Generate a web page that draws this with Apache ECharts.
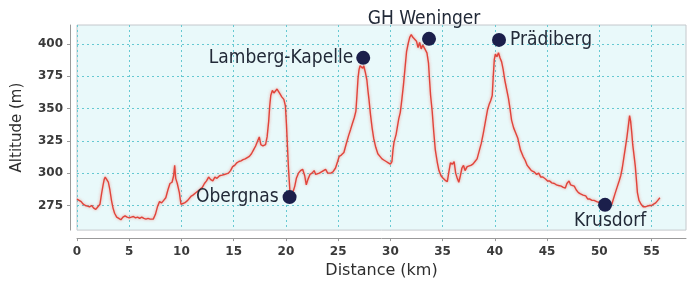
<!DOCTYPE html>
<html>
<head>
<meta charset="utf-8">
<script src="https://cdn.jsdelivr.net/npm/echarts@6/dist/echarts.min.js"></script>
<style>
  html, body { margin: 0; padding: 0; background: #ffffff; }
  #chart { width: 687px; height: 284px; }
</style>
</head>
<body>
<div id="chart"></div>
<script>
// elevation profile
var distKm = [0.0, 0.2, 0.4, 0.6, 0.8, 1.0, 1.2, 1.4, 1.6, 1.8, 2.0, 2.2, 2.35, 2.5, 2.6, 2.7, 2.85, 3.0, 3.15, 3.3,
    3.45, 3.6, 3.8, 4.0, 4.2, 4.4, 4.6, 4.8, 5.0, 5.2, 5.4, 5.6, 5.8, 6.0, 6.2, 6.4, 6.6, 6.8, 7.0, 7.3,
    7.5, 7.7, 7.9, 8.1, 8.3, 8.5, 8.7, 8.9, 9.1, 9.25, 9.35, 9.45, 9.6, 9.8, 9.95, 10.1, 10.3, 10.6, 10.9, 11.1,
    11.4, 11.7, 12.0, 12.2, 12.4, 12.6, 12.8, 13.0, 13.2, 13.4, 13.65, 13.9, 14.1, 14.3, 14.5, 14.7, 14.9, 15.1, 15.3, 15.5,
    15.7, 15.9, 16.1, 16.3, 16.5, 16.7, 16.9, 17.1, 17.3, 17.45, 17.6, 17.8, 18.05, 18.2, 18.35, 18.45, 18.55, 18.7, 18.85, 19.0,
    19.15, 19.3, 19.45, 19.6, 19.8, 19.95, 20.05, 20.15, 20.25, 20.4, 20.55, 20.7, 20.85, 21.0, 21.2, 21.4, 21.6, 21.8, 21.95, 22.1,
    22.3, 22.5, 22.7, 22.85, 23.0, 23.2, 23.4, 23.6, 23.8, 24.0, 24.1, 24.3, 24.5, 24.75, 24.95, 25.1, 25.3, 25.55, 25.75, 26.0,
    26.2, 26.35, 26.55, 26.7, 26.8, 26.9, 27.0, 27.1, 27.25, 27.35, 27.45, 27.6, 27.75, 27.85, 27.95, 28.1, 28.25, 28.4, 28.6, 28.8,
    29.0, 29.2, 29.4, 29.6, 29.8, 30.0, 30.15, 30.25, 30.35, 30.55, 30.8, 30.95, 31.1, 31.25, 31.4, 31.55, 31.7, 31.85, 32.0, 32.15,
    32.3, 32.5, 32.65, 32.8, 32.95, 33.1, 33.3, 33.5, 33.65, 33.75, 33.85, 34.0, 34.15, 34.3, 34.5, 34.65, 34.85, 35.05, 35.25, 35.45,
    35.6, 35.75, 35.95, 36.1, 36.25, 36.4, 36.55, 36.7, 36.85, 37.0, 37.15, 37.35, 37.5, 37.7, 37.9, 38.1, 38.3, 38.5, 38.7, 38.9,
    39.1, 39.3, 39.45, 39.6, 39.75, 39.85, 39.95, 40.05, 40.2, 40.35, 40.5, 40.65, 40.8, 40.95, 41.1, 41.3, 41.45, 41.6, 41.8, 42.0,
    42.2, 42.45, 42.7, 42.9, 43.1, 43.3, 43.5, 43.75, 44.0, 44.2, 44.4, 44.6, 44.85, 45.05, 45.25, 45.45, 45.7, 45.9, 46.1, 46.35,
    46.55, 46.75, 46.9, 47.1, 47.25, 47.4, 47.6, 47.8, 48.0, 48.2, 48.45, 48.7, 48.9, 49.1, 49.3, 49.5, 49.75, 49.95, 50.15, 50.4,
    50.6, 50.8, 51.0, 51.2, 51.35, 51.5, 51.7, 51.9, 52.05, 52.2, 52.35, 52.5, 52.65, 52.8, 52.9, 53.0, 53.1, 53.2, 53.35, 53.45,
    53.55, 53.65, 53.8, 54.0, 54.2, 54.4, 54.6, 54.8, 55.0, 55.2, 55.4, 55.6, 55.8];

var altM = [280, 279, 278, 276, 275, 274.5, 274, 275, 273, 272, 274, 276, 284, 291, 295, 297, 295, 293, 287, 279,
    273, 269, 266, 265, 264, 266, 267, 266, 265.5, 266, 266.5, 265.5, 266, 265, 266, 265, 264.5, 265, 264.5, 264.5,
    268, 274, 278, 277, 279, 281, 287, 292, 293, 298, 306, 296, 292, 285, 276, 275, 277, 279, 282, 283,
    285, 287, 289, 292, 294, 297, 295, 294, 297, 296, 298, 298.5, 299, 299.5, 300, 302, 305, 306, 308, 309,
    309.5, 310.5, 311, 312, 313, 315, 318, 321, 325, 328, 322, 321, 322, 328, 340, 352, 360, 364, 362, 361,
    365, 363, 361, 359, 357, 352, 338, 320, 303, 284, 285, 286, 290, 296, 300, 302, 303, 298, 291, 295,
    299, 300, 302, 299, 298, 300, 301, 302, 303, 300, 299, 300, 301, 304, 309, 313, 314, 316, 322, 329,
    334, 338, 343, 348, 360, 373, 380, 383, 384, 381, 383, 378, 372, 364, 357, 345, 335, 327, 320, 315,
    313, 311, 310, 309, 308, 307, 309, 318, 324, 330, 342, 347, 357, 368, 381, 394, 400, 405, 407, 405,
    404, 402, 397, 401, 396, 399, 396, 393, 385, 372, 360, 348, 332, 318, 308, 302, 298, 296, 294.5, 293.5,
    301, 308, 307, 309, 300, 296, 293, 298, 304, 306, 302, 305, 304, 306, 307, 309, 311, 317, 323, 331,
    340, 349, 353, 356, 360, 375, 388, 392, 390, 393, 389, 386, 380, 372, 366, 358, 350, 341, 335, 331,
    327, 318, 313, 310, 306, 304, 302, 301, 299, 300, 297, 297, 295.5, 294, 294, 292.5, 292, 291, 290.5, 290,
    289, 288.5, 292, 294, 291, 292, 290, 287, 285, 284, 283, 282.5, 280, 280, 279, 279, 278, 277.5, 276, 275,
    274, 273.5, 274.5, 276, 280, 284, 289, 294, 298, 304, 312, 320, 328, 338, 344.5, 340, 332, 322, 312, 305,
    295, 285, 279, 276, 274, 274, 274.5, 275, 275, 276, 277, 279, 281];

// named places on the route
var placeNames = ['Obergnas', 'Lamberg-Kapelle', 'GH Weninger', 'Prädiberg', 'Krusdorf'];
var placeKm = [20.35, 27.4, 33.7, 40.4, 50.55];
var placeAlt = [281.5, 389.1, 403.8, 403, 275.5];

// tick values
var xTicks = [0, 5, 10, 15, 20, 25, 30, 35, 40, 45, 50, 55];
var yTicks = [275, 300, 325, 350, 375, 400];

var labelStyle = {
    'Obergnas': { position: 'left', distance: 4 },
    'Lamberg-Kapelle': { position: 'left', distance: 3 },
    'GH Weninger': { position: 'top', distance: 3, offset: [-5, 0] },
    'Prädiberg': { position: 'right', distance: 4 },
    'Krusdorf': { position: 'bottom', distance: 0, offset: [5, 0] }
};

var profile = distKm.map(function (d, i) { return [d, altM[i]]; });
var places = placeNames.map(function (n, i) {
    return {
        name: n,
        value: [placeKm[i], placeAlt[i]],
        label: labelStyle[n]
    };
});

var dom = document.getElementById('chart');
var myChart = echarts.init(dom, null, { renderer: 'canvas' });

var gridLine = {
    show: true,
    lineStyle: { color: '#66c9d2', type: [2, 3], width: 1 }
};

var option = {
    animation: false,
    grid: {
        left: 77,
        right: 1,
        top: 25,
        bottom: 51,
        show: true,
        backgroundColor: '#e9f9fa',
        borderColor: '#c4c8cc',
        borderWidth: 1
    },
    xAxis: {
        type: 'value',
        min: 0,
        max: 58.3,
        offset: 8,
        name: 'Distance (km)',
        nameLocation: 'middle',
        nameGap: 22,
        nameTextStyle: { fontFamily: 'DejaVu Sans', fontSize: 16, color: '#2e2e2e' },
        axisLine: { show: true, onZero: false, lineStyle: { color: '#9a9a9a' } },
        axisTick: { show: true, inside: false, length: 3, customValues: xTicks, lineStyle: { color: '#9a9a9a' } },
        axisLabel: { customValues: xTicks, margin: 8, fontFamily: 'DejaVu Sans', fontSize: 12, fontWeight: 'bold', color: '#3a3a3a' },
        splitLine: gridLine
    },
    yAxis: {
        type: 'value',
        min: 256,
        max: 414.5,
        offset: 7,
        name: 'Altitude (m)',
        nameLocation: 'middle',
        nameGap: 45,
        nameRotate: 90,
        nameTextStyle: { fontFamily: 'DejaVu Sans', fontSize: 15, color: '#2e2e2e' },
        axisLine: { show: true, onZero: false, lineStyle: { color: '#9a9a9a' } },
        axisTick: { show: true, length: 3, customValues: yTicks, lineStyle: { color: '#9a9a9a' } },
        axisLabel: { customValues: yTicks, margin: 7, fontFamily: 'DejaVu Sans', fontSize: 12, fontWeight: 'bold', color: '#3a3a3a' },
        splitLine: gridLine
    },
    series: [
        {
            type: 'line',
            data: profile,
            showSymbol: false,
            z: 2,
            lineStyle: {
                color: '#e0443b',
                width: 1.4,
                shadowColor: 'rgba(240, 110, 95, 0.7)',
                shadowBlur: 3
            }
        },
        {
            type: 'scatter',
            data: places,
            z: 3,
            symbolSize: 14,
            itemStyle: { color: '#1b1f4b', opacity: 1 },
            label: {
                show: true,
                formatter: '{b}',
                fontFamily: 'DejaVu Sans Condensed',
                fontSize: 19,
                color: '#222a38'
            }
        }
    ]
};

if (option && typeof option === 'object') {
    myChart.setOption(option, true);
}
</script>
</body>
</html>
